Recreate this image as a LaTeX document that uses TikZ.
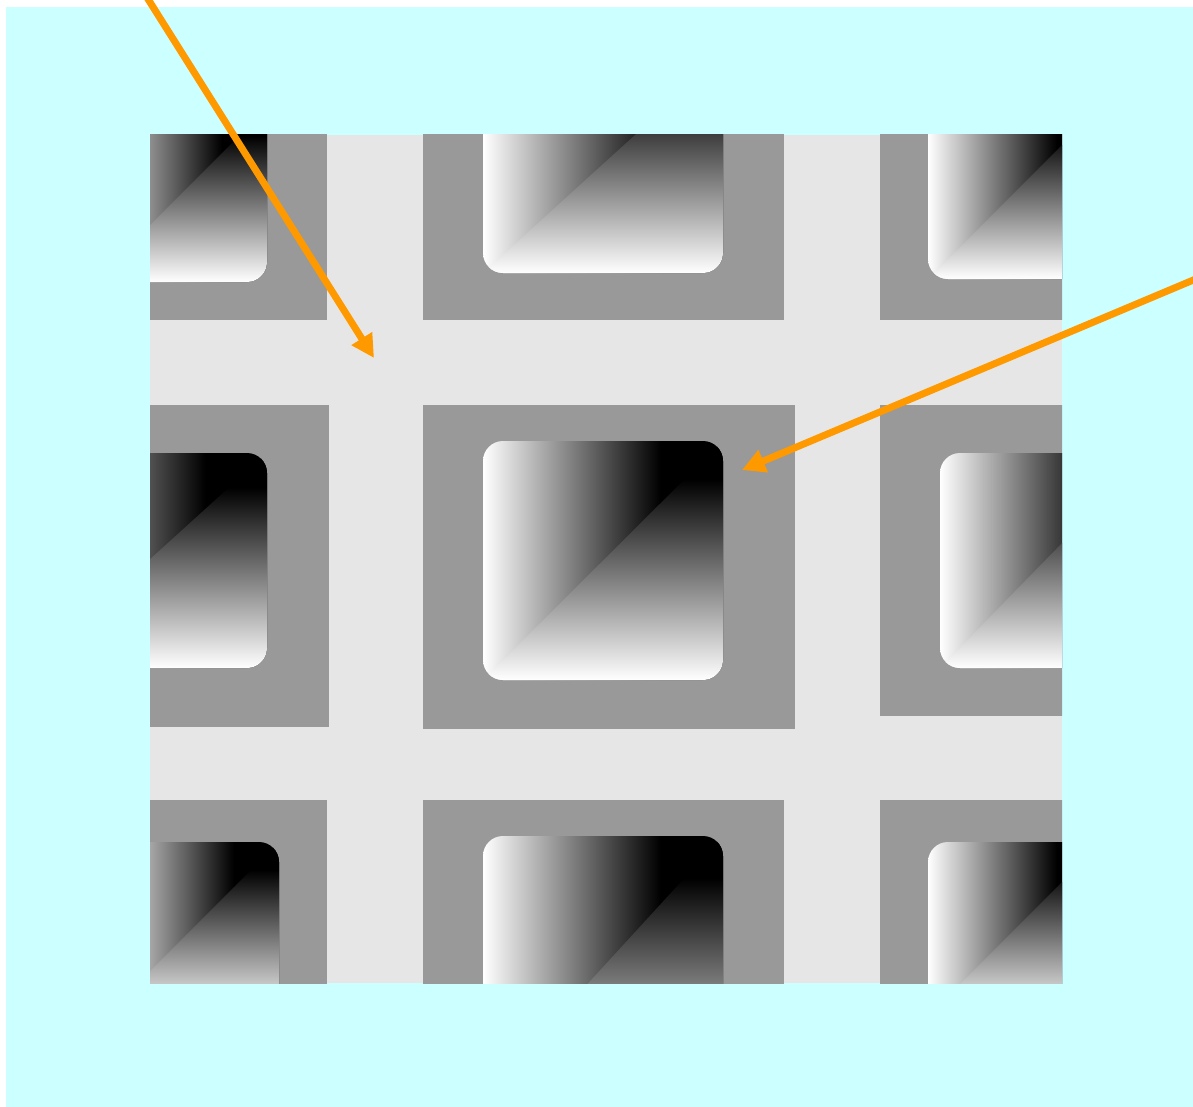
\documentclass[tikz,border=0pt]{standalone}
\usepackage{xcolor}
\usepackage{tikz}
\usetikzlibrary{arrows.meta}

\definecolor{skycyan}{RGB}{204,255,255}
\definecolor{floorgray}{RGB}{230,230,230}
\definecolor{framegray}{RGB}{153,153,153}
\definecolor{pointer}{RGB}{255,153,0}

% ramps for the sunken wells (central 25bp--75bp maps onto the box)
\pgfdeclarehorizontalshading{ramph}{100bp}{color(0bp)=(white); color(25bp)=(white); color(62bp)=(black); color(100bp)=(black)}
\pgfdeclareverticalshading{rampv}{100bp}{color(0bp)=(white); color(25bp)=(white); color(67bp)=(black); color(100bp)=(black)}

% one well: left/top corner, right/bottom corner
\newcommand{\wellbox}[4]{%
  \begin{scope}
    \clip[rounded corners=20pt] (#1,#2) rectangle (#3,#4);
    \shade[shading=ramph] (#1,#2) rectangle (#3,#4);
    \shade[shading=rampv] (#1,#4) -- (#3,#2) -- (#3,#4) -- cycle;
  \end{scope}}

\begin{document}
\begin{tikzpicture}[
    x=1pt, y=-1pt,
    frame/.style={fill=framegray},
    arr/.style={-{Triangle[length=23pt, width=23pt]}, line width=7pt, draw=pointer}
]
\useasboundingbox (0,0) rectangle (1193,1107);

% Backdrop
\fill[skycyan] (6,7) rectangle (1193,1107);

% Cut-out window
\begin{scope}
\clip (150,135) rectangle (1062,983);
\fill[floorgray] (150,135) rectangle (1062,983);

% Frames, row by row
\fill[frame] (100,80) rectangle (327,320);
\fill[frame] (423,80) rectangle (784,320);
\fill[frame] (880,80) rectangle (1100,320);
\fill[frame] (100,405) rectangle (329,727);
\fill[frame] (423,405) rectangle (795,729);
\fill[frame] (880,405) rectangle (1100,716);
\fill[frame] (100,800) rectangle (327,1050);
\fill[frame] (423,800) rectangle (784,1050);
\fill[frame] (880,800) rectangle (1100,1050);

% Wells
\wellbox{93}{108}{267}{282}
\wellbox{483}{55}{723}{273}
\wellbox{928}{105}{1102}{279}
\wellbox{30}{453}{267}{668}
\wellbox{483}{441}{723}{680}
\wellbox{940}{453}{1150}{668}
\wellbox{105}{842}{279}{1016}
\wellbox{483}{836}{723}{1098}
\wellbox{928}{842}{1102}{1016}
\end{scope}

% Pointers
\coordinate (tailA) at (136,-20);
\coordinate (tipA) at (374,358);
\coordinate (tailB) at (1210,273);
\coordinate (tipB) at (742,470);
\draw[arr] (tailA) -- (tipA);
\draw[arr] (tailB) -- (tipB);

\end{tikzpicture}
\end{document}
